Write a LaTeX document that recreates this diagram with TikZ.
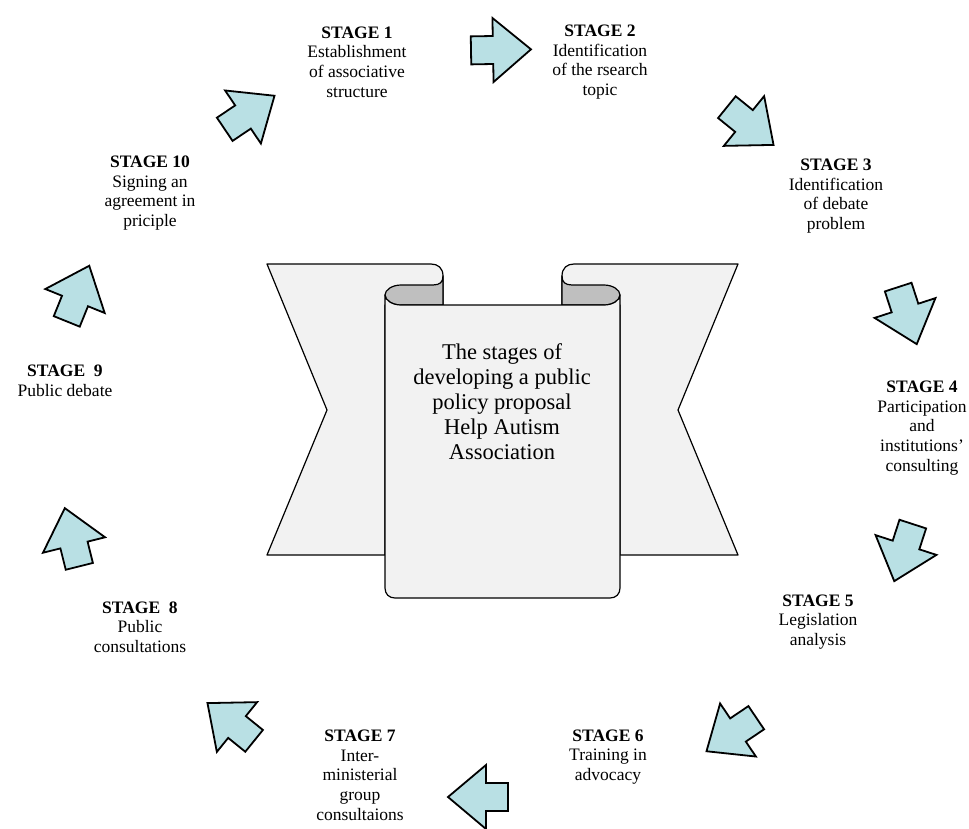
\documentclass[tikz,border=0pt]{standalone}
\usepackage{fontspec}
\setmainfont{Liberation Serif}
\definecolor{arrowblue}{RGB}{185,224,228}
\definecolor{paper}{RGB}{242,242,242}
\definecolor{curlgray}{RGB}{191,191,191}
\tikzset{
  stagearrow/.style={draw=black,line width=1.8pt,fill=arrowblue,line join=miter},
  banner/.style={draw=black,line width=1.2pt,fill=paper,line join=round},
  curl/.style={draw=black,line width=1.2pt,fill=curlgray,line join=round},
  stagelabel/.style={align=center,inner sep=0pt,font=\fontsize{17.5}{19.7}\selectfont},
}
\begin{document}
\begin{tikzpicture}[x=1pt,y=-1pt]
\useasboundingbox (0,0) rectangle (969,828);
\foreach \px/\py/\a in {243/117/34, 493/50/1, 744/121/-39, 905/308/-72, 906/545/-108,
  738/730/-146, 486/797/180, 237/727/141, 74/545/104, 75/301/68}
  \draw[stagearrow,shift={(\px,\py)},rotate=\a] (-22,14) -- (0,14) -- (0,32) -- (38,0)
    -- (0,-32) -- (0,-14) -- (-22,-14) -- cycle;
\draw[banner] (267,264) -- (431,264) .. controls (438,264) and (443,268) .. (443,276)
  -- (443,305) -- (385,305) -- (385,555) -- (267,555) -- (327,410) -- cycle;
\draw[banner] (738,264) -- (574,264) .. controls (567,264) and (562,268) .. (562,276)
  -- (562,305) -- (620,305) -- (620,555) -- (738,555) -- (678,410) -- cycle;
\draw[curl] (443,276) .. controls (443,282) and (440,285) .. (433,285) -- (401,285)
  .. controls (392,285) and (385,290) .. (385,295) .. controls (385,300) and (392,305) .. (401,305)
  -- (443,305) -- cycle;
\draw[curl] (562,276) .. controls (562,282) and (565,285) .. (572,285) -- (604,285)
  .. controls (613,285) and (620,290) .. (620,295) .. controls (620,300) and (613,305) .. (604,305)
  -- (562,305) -- cycle;
\draw[banner] (385,295) -- (385,588) .. controls (385,594) and (389,598) .. (395,598)
  -- (610,598) .. controls (616,598) and (620,594) .. (620,588) -- (620,295)
  .. controls (620,300) and (613,305) .. (604,305) -- (401,305)
  .. controls (392,305) and (385,300) .. (385,295) -- cycle;
\node[align=center,inner sep=0pt,font=\fontsize{22.5}{25}\selectfont] (title) at (502,402)
  {The stages of\\developing a public\\policy proposal\\Help Autism\\Association};
\node[stagelabel] (s1) at (357,62) {\textbf{STAGE 1}\\Establishment\\of associative\\structure};
\node[stagelabel] (s2) at (600,62) {\textbf{STAGE 2}\\Identification\\of the rsearch\\topic};
\node[stagelabel] (s3) at (836,196) {\textbf{STAGE 3}\\Identification\\of debate\\problem};
\node[stagelabel] (s4) at (922,428) {\textbf{STAGE 4}\\Participation\\and\\institutions’\\consulting};
\node[stagelabel] (s5) at (818,622) {\textbf{STAGE 5}\\Legislation\\analysis};
\node[stagelabel] (s6) at (608,757) {\textbf{STAGE 6}\\Training in\\advocacy};
\node[stagelabel] (s7) at (360,775) {\textbf{STAGE 7}\\Inter-\\ministerial\\group\\consultaions};
\node[stagelabel] (s8) at (140,627) {\textbf{STAGE~ 8}\\Public\\consultations};
\node[stagelabel] (s9) at (65,381) {\textbf{STAGE~ 9}\\Public debate};
\node[stagelabel] (s10) at (150,193) {\textbf{STAGE 10}\\Signing an\\agreement in\\priciple};
\end{tikzpicture}
\end{document}
